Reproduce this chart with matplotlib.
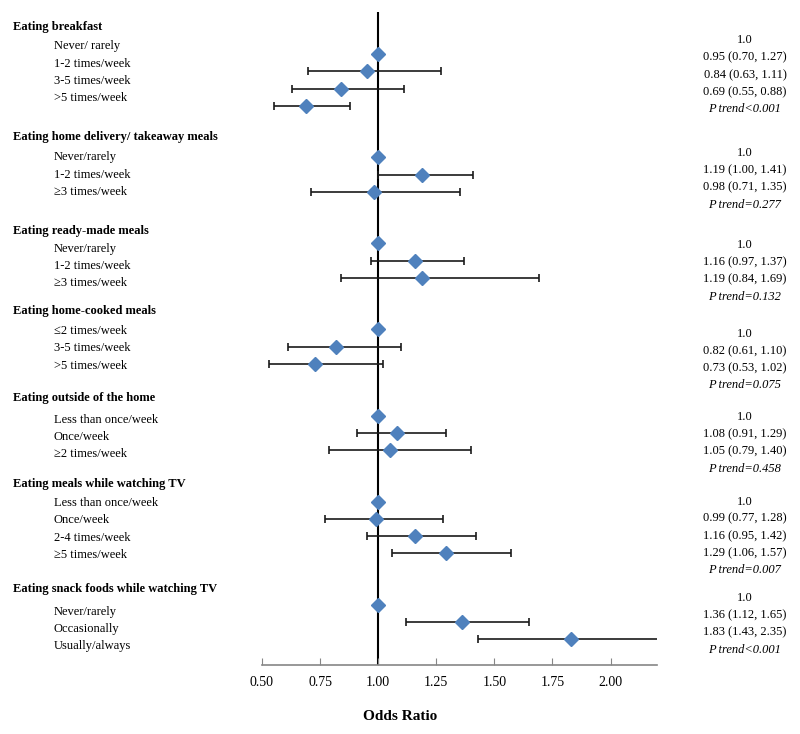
import matplotlib
matplotlib.use("Agg")
import matplotlib.pyplot as plt
from matplotlib.transforms import blended_transform_factory

plt.rcParams['font.family'] = ['Liberation Serif', 'DejaVu Serif']

# data
groups = ["Eating breakfast",
          "Eating home delivery/ takeaway meals",
          "Eating ready-made meals",
          "Eating home-cooked meals",
          "Eating outside of the home",
          "Eating meals while watching TV",
          "Eating snack foods while watching TV"]

categories = [
    ["Never/ rarely", "1-2 times/week", "3-5 times/week", ">5 times/week"],
    ["Never/rarely", "1-2 times/week", "≥3 times/week"],
    ["Never/rarely", "1-2 times/week", "≥3 times/week"],
    ["≤2 times/week", "3-5 times/week", ">5 times/week"],
    ["Less than once/week", "Once/week", "≥2 times/week"],
    ["Less than once/week", "Once/week", "2-4 times/week", "≥5 times/week"],
    ["Never/rarely", "Occasionally", "Usually/always"],
]

odds = [
    [1.0, 0.95, 0.84, 0.69],
    [1.0, 1.19, 0.98],
    [1.0, 1.16, 1.19],
    [1.0, 0.82, 0.73],
    [1.0, 1.08, 1.05],
    [1.0, 0.99, 1.16, 1.29],
    [1.0, 1.36, 1.83],
]
ci_low = [
    [None, 0.70, 0.63, 0.55],
    [None, 1.00, 0.71],
    [None, 0.97, 0.84],
    [None, 0.61, 0.53],
    [None, 0.91, 0.79],
    [None, 0.77, 0.95, 1.06],
    [None, 1.12, 1.43],
]
ci_high = [
    [None, 1.27, 1.11, 0.88],
    [None, 1.41, 1.35],
    [None, 1.37, 1.69],
    [None, 1.10, 1.02],
    [None, 1.29, 1.40],
    [None, 1.28, 1.42, 1.57],
    [None, 1.65, 2.35],
]
p_trend = ["<0.001", "=0.277", "=0.132", "=0.075", "=0.458", "=0.007", "<0.001"]

# layout tweaks (row units) to mimic the hand-placed text boxes
header_off = [-1.6, -1.2, -0.7, -1.05, -1.0, -1.0, -0.9]
label_off = [-0.45, 0.0, 0.3, 0.1, 0.25, 0.1, 0.4]
right_off = [-0.8, -0.25, 0.1, 0.25, 0.1, 0.0, -0.4]

blue = "#4F81BD"

fig = plt.figure(figsize=(8, 7.34), dpi=100)
ax = fig.add_axes([0.3275, 0.094, 0.4938, 0.8896])

# row positions: one slot per category, two blank slots between groups
rows = []
slot = 0
for cats in categories:
    rows.append(list(range(slot, slot + len(cats))))
    slot += len(cats) + 2

ax.axvline(1.0, color="black", lw=1.5, zorder=1)

trans = blended_transform_factory(fig.transFigure, ax.transData)
for g, name in enumerate(groups):
    ys = rows[g]
    ax.text(13 / 800, ys[0] + header_off[g], name, transform=trans,
            fontsize=9, fontweight="bold", va="center", ha="left")
    for i, y in enumerate(ys):
        ax.text(54 / 800, y + label_off[g], categories[g][i], transform=trans,
                fontsize=9, va="center", ha="left")
        o, lo, hi = odds[g][i], ci_low[g][i], ci_high[g][i]
        if lo is not None:
            ax.errorbar(o, y, xerr=[[o - lo], [hi - o]], fmt="none",
                        ecolor="#1a1a1a", elinewidth=1.2, capsize=3,
                        capthick=1.2, zorder=2)
            txt = f"{o:.2f} ({lo:.2f}, {hi:.2f})"
        else:
            txt = f"{o:.1f}"
        ax.plot(o, y, marker="D", ms=7, color=blue, mec=blue, ls="none", zorder=3)
        ax.text(745 / 800, y + right_off[g], txt, transform=trans,
                fontsize=9, va="center", ha="center")
    ax.text(745 / 800, ys[-1] + 1 + right_off[g], f"P trend{p_trend[g]}",
            transform=trans, fontsize=9, style="italic", va="center", ha="center")

ax.set_xlim(0.5, 2.2)
ax.set_ylim(35.5, -2.45)
ax.set_xticks([0.5, 0.75, 1.0, 1.25, 1.5, 1.75, 2.0])
ax.set_xticklabels(["0.50", "0.75", "1.00", "1.25", "1.50", "1.75", "2.00"], fontsize=10)
ax.tick_params(axis="x", direction="in", length=5, color="#868686", pad=8)
ax.set_yticks([])
for s in ["top", "left", "right"]:
    ax.spines[s].set_visible(False)
ax.spines["bottom"].set_color("#868686")
ax.spines["bottom"].set_linewidth(1.2)

fig.text(400 / 800, 1 - 717 / 734, "Odds Ratio", fontsize=11, fontweight="bold",
         ha="center", va="center")

fig.savefig("out.png", dpi=100)
